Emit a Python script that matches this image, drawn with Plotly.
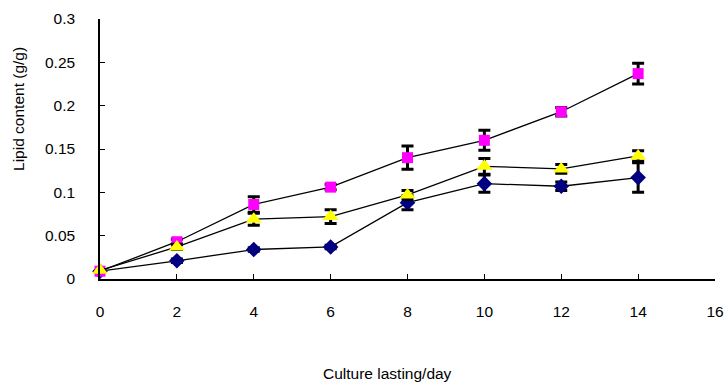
import plotly.graph_objects as go

days = [0, 2, 4, 6, 8, 10, 12, 14]

diamond_vals = [0.009, 0.021, 0.034, 0.037, 0.088, 0.110, 0.107, 0.117]
diamond_err = [0.001, 0.002, 0.002, 0.002, 0.008, 0.010, 0.005, 0.017]

square_vals = [0.009, 0.043, 0.086, 0.106, 0.140, 0.160, 0.193, 0.237]
square_err = [0.001, 0.003, 0.009, 0.003, 0.0135, 0.0115, 0.005, 0.012]

triangle_vals = [0.010, 0.037, 0.069, 0.072, 0.097, 0.130, 0.127, 0.142]
triangle_err = [0.001, 0.003, 0.007, 0.008, 0.005, 0.009, 0.005, 0.006]

x_ticks = [0, 2, 4, 6, 8, 10, 12, 14, 16]
y_ticks = [0, 0.05, 0.1, 0.15, 0.2, 0.25, 0.3]
y_tick_labels = ["0", "0.05", "0.1", "0.15", "0.2", "0.25", "0.3"]

FONT = "Liberation Sans, Arial, sans-serif"

fig = go.Figure()

def add_series(vals, err, color, symbol, size):
    fig.add_trace(go.Scatter(
        x=days, y=vals, mode="lines+markers",
        line=dict(color="black", width=1.3),
        marker=dict(color=color, symbol=symbol, size=size, line=dict(width=0)),
        error_y=dict(type="data", array=err, visible=True, color="black",
                     thickness=3, width=6),
        cliponaxis=False, showlegend=False,
    ))

add_series(diamond_vals, diamond_err, "#000080", "diamond", 12)
add_series(square_vals, square_err, "#FF00FF", "square", 11)
add_series(triangle_vals, triangle_err, "#FFFF00", "triangle-up", 14)

fig.update_layout(
    width=726, height=383,
    margin=dict(l=100, r=11, t=19, b=104, autoexpand=False),
    paper_bgcolor="white", plot_bgcolor="white",
    font=dict(family=FONT, size=15.5, color="black"),
    xaxis=dict(range=[0, 16], tickvals=x_ticks, ticks="inside", ticklen=5,
               tickcolor="black", showline=True, linecolor="black", linewidth=1.5,
               showgrid=False, zeroline=False, ticklabelstandoff=18, automargin=False,
               tickfont=dict(size=15.5, family=FONT)),
    yaxis=dict(range=[0, 0.3], tickvals=y_ticks, ticktext=y_tick_labels,
               ticks="inside", ticklen=5, tickcolor="black", showline=True,
               linecolor="black", linewidth=1.5, showgrid=False, zeroline=False,
               ticklabelstandoff=20, automargin=False,
               tickfont=dict(size=15.5, family=FONT)),
    annotations=[
        dict(text="Lipid content (g/g)", x=-0.1317, y=0.654, xref="paper", yref="paper",
             textangle=-90, showarrow=False, xanchor="center", yanchor="middle",
             font=dict(size=15.5, family=FONT)),
        dict(text="Culture lasting/day", x=0.468, y=-0.365, xref="paper", yref="paper",
             showarrow=False, xanchor="center", yanchor="middle",
             font=dict(size=15.5, family=FONT)),
    ],
)

fig.write_html("out.html")
